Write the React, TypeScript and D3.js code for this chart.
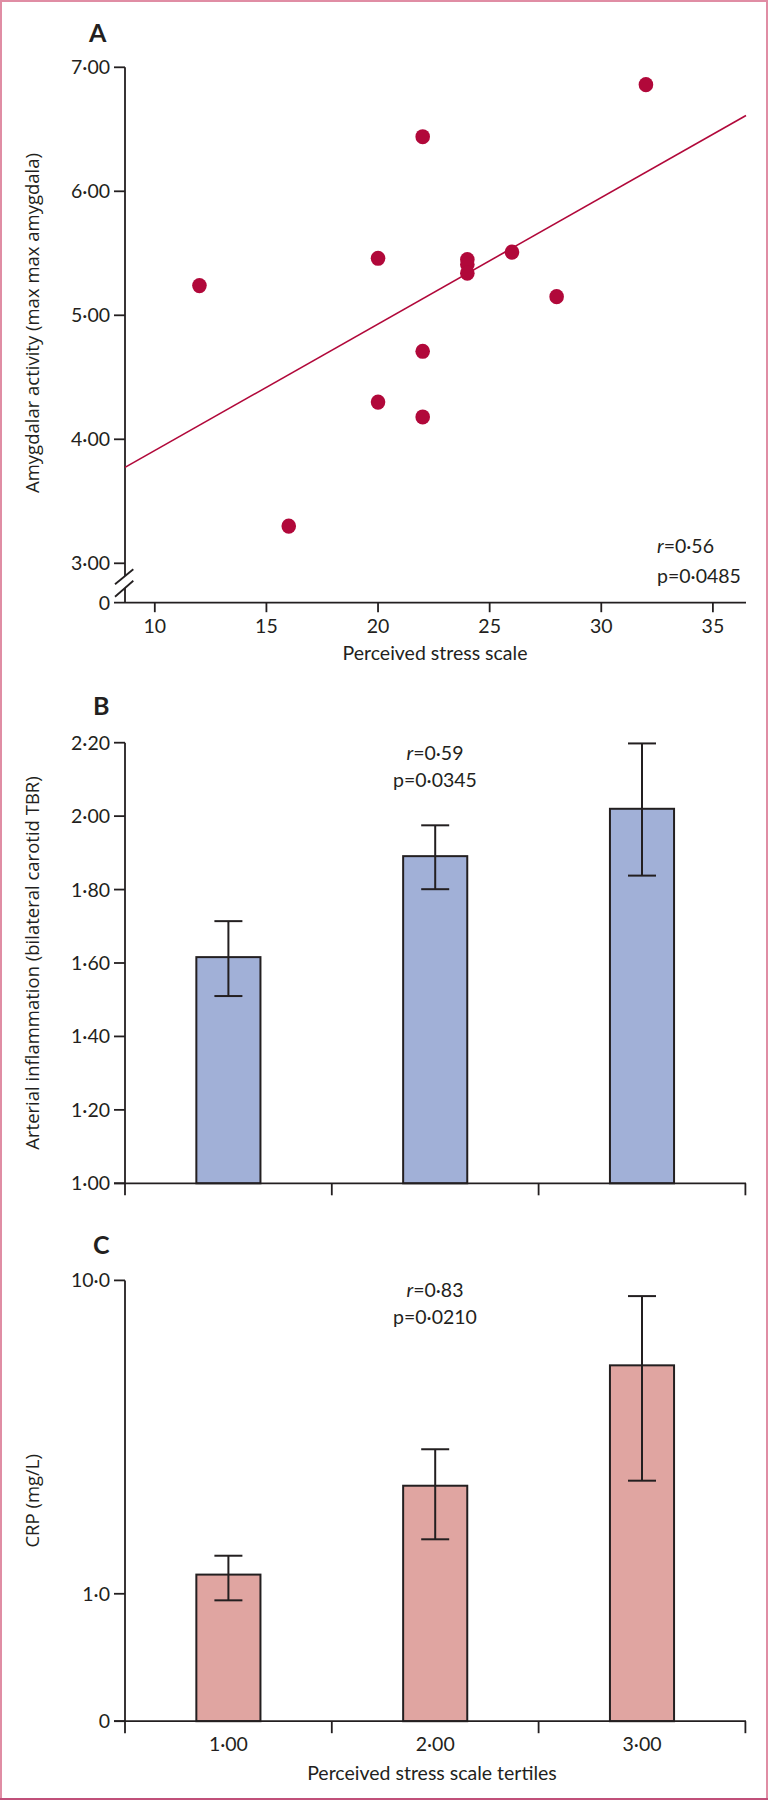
import React from 'react';
import * as d3 from 'd3';

// ---------- data ----------
const stressScores = [12, 16, 20, 20, 22, 22, 22, 24, 24, 24, 26, 28, 32];
const amygdalaActivity = [5.24, 3.3, 5.46, 4.3, 6.44, 4.71, 4.18, 5.45, 5.41, 5.34, 5.51, 5.15, 6.86];
const xTicksA = [10, 15, 20, 25, 30, 35];
const yTicksA = [3, 4, 5, 6, 7];

const tertiles = ['1·00', '2·00', '3·00'];
const tbrMean = [1.616, 1.891, 2.02];
const tbrLow = [1.51, 1.801, 1.838];
const tbrHigh = [1.714, 1.975, 2.198];
const yTicksB = [1.0, 1.2, 1.4, 1.6, 1.8, 2.0, 2.2];

const crpMean = [1.22, 2.6, 5.93];
const crpLow = [0.93, 1.69, 2.7];
const crpHigh = [1.46, 3.39, 9.1];
const yTicksC = [0, 1, 10];
const yTickLabelsC = ['0', '1·0', '10·0'];

const statsA = { r: '0·56', p: '0·0485' };
const statsB = { r: '0·59', p: '0·0345' };
const statsC = { r: '0·83', p: '0·0210' };

// ---------- style ----------
const W = 768;
const H = 1800;
const AXIS = '#231f20';
const DOT = '#b1083a';
const BLUE = '#a1b0d7';
const PINK = '#e0a5a1';
const FRAME = '#e08da4';
const NUM_FONT = 'Lato, "Noto Sans", sans-serif';
const TITLE_FONT = '"Open Sans", "Noto Sans", sans-serif';
const NUM_SIZE = 19.5;

const AX_X = 125; // y-axis position
const AX_LEFT = 114;
const AX_RIGHT = 746;
const TICK = 11;

const fmt2 = (v: number) => v.toFixed(2).replace('.', '·');

function Stats({ x, y1, y2, s, anchor }: { x: number; y1: number; y2: number; s: { r: string; p: string }; anchor: string }) {
  return (
    <g fontFamily={NUM_FONT} fontSize={NUM_SIZE} fill={AXIS} textAnchor={anchor}>
      <text x={x} y={y1}>
        <tspan fontStyle="italic">r</tspan>={s.r}
      </text>
      <text x={x} y={y2}>p={s.p}</text>
    </g>
  );
}

function BarPanel({
  yScale, base, top, means, lows, highs, fill, ticks, tickLabels, showX,
}: {
  yScale: (v: number) => number; base: number; top: number; means: number[]; lows: number[]; highs: number[];
  fill: string; ticks: number[]; tickLabels: string[]; showX: boolean;
}) {
  const band = d3.scaleBand<number>().domain([0, 1, 2]).range([AX_X, 745.4]).paddingInner(0.69).paddingOuter(0.345);
  const step = band.step();
  const bw = band.bandwidth();
  const boundaries = d3.range(4).map((i) => AX_X + i * step);
  const capW = 28;
  return (
    <g>
      {means.map((m, i) => {
        const x = band(i) as number;
        const cx = x + bw / 2;
        return (
          <g key={i}>
            <rect x={x} y={yScale(m)} width={bw} height={base - yScale(m)} fill={fill} stroke={AXIS} strokeWidth={2} />
            <line x1={cx} x2={cx} y1={yScale(highs[i])} y2={yScale(lows[i])} stroke={AXIS} strokeWidth={2} />
            <line x1={cx - capW / 2} x2={cx + capW / 2} y1={yScale(highs[i])} y2={yScale(highs[i])} stroke={AXIS} strokeWidth={2} />
            <line x1={cx - capW / 2} x2={cx + capW / 2} y1={yScale(lows[i])} y2={yScale(lows[i])} stroke={AXIS} strokeWidth={2} />
          </g>
        );
      })}
      {/* y axis */}
      <line x1={AX_X} x2={AX_X} y1={top} y2={base} stroke={AXIS} strokeWidth={1.8} />
      {ticks.map((t, i) => (
        <g key={i}>
          <line x1={AX_LEFT} x2={AX_X} y1={yScale(t)} y2={yScale(t)} stroke={AXIS} strokeWidth={1.8} />
          <text x={110} y={yScale(t) + 7} textAnchor="end" fontFamily={NUM_FONT} fontSize={NUM_SIZE} fill={AXIS}>
            {tickLabels[i]}
          </text>
        </g>
      ))}
      {/* x axis */}
      <line x1={AX_LEFT} x2={AX_RIGHT} y1={base} y2={base} stroke={AXIS} strokeWidth={1.8} />
      {boundaries.map((b, i) => (
        <line key={i} x1={b} x2={b} y1={base} y2={base + 12} stroke={AXIS} strokeWidth={1.8} />
      ))}
      {showX &&
        tertiles.map((t, i) => (
          <text key={i} x={(band(i) as number) + bw / 2} y={base + 30} textAnchor="middle" fontFamily={NUM_FONT} fontSize={NUM_SIZE} fill={AXIS}>
            {t}
          </text>
        ))}
    </g>
  );
}

export default function App() {
  // ---- Panel A ----
  const xA = d3.scaleLinear().domain([10, 35]).range([154.8, 712.9]);
  const yA = d3.scaleLinear().domain([3, 7]).range([563.3, 67.3]);
  const baseA = 602.7;
  const mx = d3.mean(stressScores) as number;
  const my = d3.mean(amygdalaActivity) as number;
  const sxy = d3.sum(stressScores.map((x, i) => (x - mx) * (amygdalaActivity[i] - my)));
  const sxx = d3.sum(stressScores.map((x) => (x - mx) ** 2));
  const slope = sxy / sxx;
  const icpt = my - slope * mx;
  const fx0 = xA.invert(AX_X);
  const fx1 = xA.invert(AX_RIGHT);
  const fitLine = d3.line<number>().x((d) => xA(d)).y((d) => yA(icpt + slope * d));

  // axis break geometry
  const brkTop = yA(3) + 12.7;
  const brkBot = baseA - 14.7;

  // ---- Panel B ----
  const yB = d3.scaleLinear().domain([1, 2.2]).range([1183.3, 742.7]);
  // ---- Panel C ----
  const yC = d3.scaleSymlog().constant(1).domain([0, 10]).range([1721.2, 1280.4]);

  return (
    <div style={{ position: 'absolute', left: 0, top: 0 }}>
      <svg width={W} height={H} viewBox={`0 0 ${W} ${H}`} style={{ display: 'block', background: '#fff' }}>
        <rect x={0} y={0} width={W} height={H} fill="#fff" />
        {/* frame */}
        <rect x={1} y={1} width={W - 2} height={H - 2} fill="none" stroke={FRAME} strokeWidth={2} />
        <line x1={0} x2={W} y1={H - 1} y2={H - 1} stroke="#c0507a" strokeWidth={2} />

        {/* ===== Panel A ===== */}
        <text x={89} y={42} fontFamily={NUM_FONT} fontWeight={700} fontSize={25} fill={AXIS}>A</text>
        <line x1={AX_X} x2={AX_X} y1={yA(7)} y2={brkTop} stroke={AXIS} strokeWidth={1.8} />
        <line x1={AX_X} x2={AX_X} y1={brkBot} y2={baseA} stroke={AXIS} strokeWidth={1.8} />
        <line x1={115} x2={133.3} y1={brkTop + 8.3} y2={brkTop - 6.7} stroke={AXIS} strokeWidth={1.8} />
        <line x1={115} x2={133.3} y1={brkBot + 8.7} y2={brkBot - 7.3} stroke={AXIS} strokeWidth={1.8} />
        {yTicksA.map((t) => (
          <g key={t}>
            <line x1={AX_LEFT} x2={AX_X} y1={yA(t)} y2={yA(t)} stroke={AXIS} strokeWidth={1.8} />
            <text x={110} y={yA(t) + 7} textAnchor="end" fontFamily={NUM_FONT} fontSize={NUM_SIZE} fill={AXIS}>
              {fmt2(t)}
            </text>
          </g>
        ))}
        <line x1={AX_LEFT} x2={AX_RIGHT} y1={baseA} y2={baseA} stroke={AXIS} strokeWidth={1.8} />
        <text x={110} y={baseA + 7} textAnchor="end" fontFamily={NUM_FONT} fontSize={NUM_SIZE} fill={AXIS}>0</text>
        {xTicksA.map((t) => (
          <g key={t}>
            <line x1={xA(t)} x2={xA(t)} y1={baseA} y2={baseA + 9.5} stroke={AXIS} strokeWidth={1.8} />
            <text x={xA(t)} y={baseA + 30} textAnchor="middle" fontFamily={NUM_FONT} fontSize={NUM_SIZE} fill={AXIS}>
              {t}
            </text>
          </g>
        ))}
        <path d={fitLine([fx0, fx1]) || ''} fill="none" stroke={DOT} strokeWidth={1.6} />
        {stressScores.map((s, i) => (
          <ellipse key={i} cx={xA(s)} cy={yA(amygdalaActivity[i])} rx={7.3} ry={7.6} fill={DOT} />
        ))}
        <Stats x={657} y1={553} y2={583} s={statsA} anchor="start" />
        <text x={435} y={660} textAnchor="middle" fontFamily={NUM_FONT} fontSize={NUM_SIZE} fill={AXIS}>
          Perceived stress scale
        </text>
        <text transform={`translate(31,${(yA(7) + baseA) / 2 - 12}) rotate(-90)`} textAnchor="middle" dominantBaseline="central"
          fontFamily={TITLE_FONT} fontSize={18.5} fill={AXIS}>
          Amygdalar activity (max max amygdala)
        </text>

        {/* ===== Panel B ===== */}
        <text x={93} y={715} fontFamily={NUM_FONT} fontWeight={700} fontSize={25} fill={AXIS}>B</text>
        <BarPanel yScale={yB} base={yB(1)} top={yB(2.2)} means={tbrMean} lows={tbrLow} highs={tbrHigh} fill={BLUE}
          ticks={yTicksB} tickLabels={yTicksB.map(fmt2)} showX={false} />
        <Stats x={435} y1={760} y2={787} s={statsB} anchor="middle" />
        <text transform={`translate(31,${(yB(2.2) + yB(1)) / 2}) rotate(-90)`} textAnchor="middle" dominantBaseline="central"
          fontFamily={TITLE_FONT} fontSize={18.5} fill={AXIS}>
          Arterial inflammation (bilateral carotid TBR)
        </text>

        {/* ===== Panel C ===== */}
        <text x={93} y={1254} fontFamily={NUM_FONT} fontWeight={700} fontSize={25} fill={AXIS}>C</text>
        <BarPanel yScale={yC} base={yC(0)} top={yC(10)} means={crpMean} lows={crpLow} highs={crpHigh} fill={PINK}
          ticks={yTicksC} tickLabels={yTickLabelsC} showX={true} />
        <Stats x={435} y1={1297} y2={1324} s={statsC} anchor="middle" />
        <text transform={`translate(31,${(yC(10) + yC(0)) / 2}) rotate(-90)`} textAnchor="middle" dominantBaseline="central"
          fontFamily={TITLE_FONT} fontSize={18.5} fill={AXIS}>
          CRP (mg/L)
        </text>
        <text x={432} y={1780} textAnchor="middle" fontFamily={NUM_FONT} fontSize={NUM_SIZE} fill={AXIS}>
          Perceived stress scale tertiles
        </text>
      </svg>
    </div>
  );
}
